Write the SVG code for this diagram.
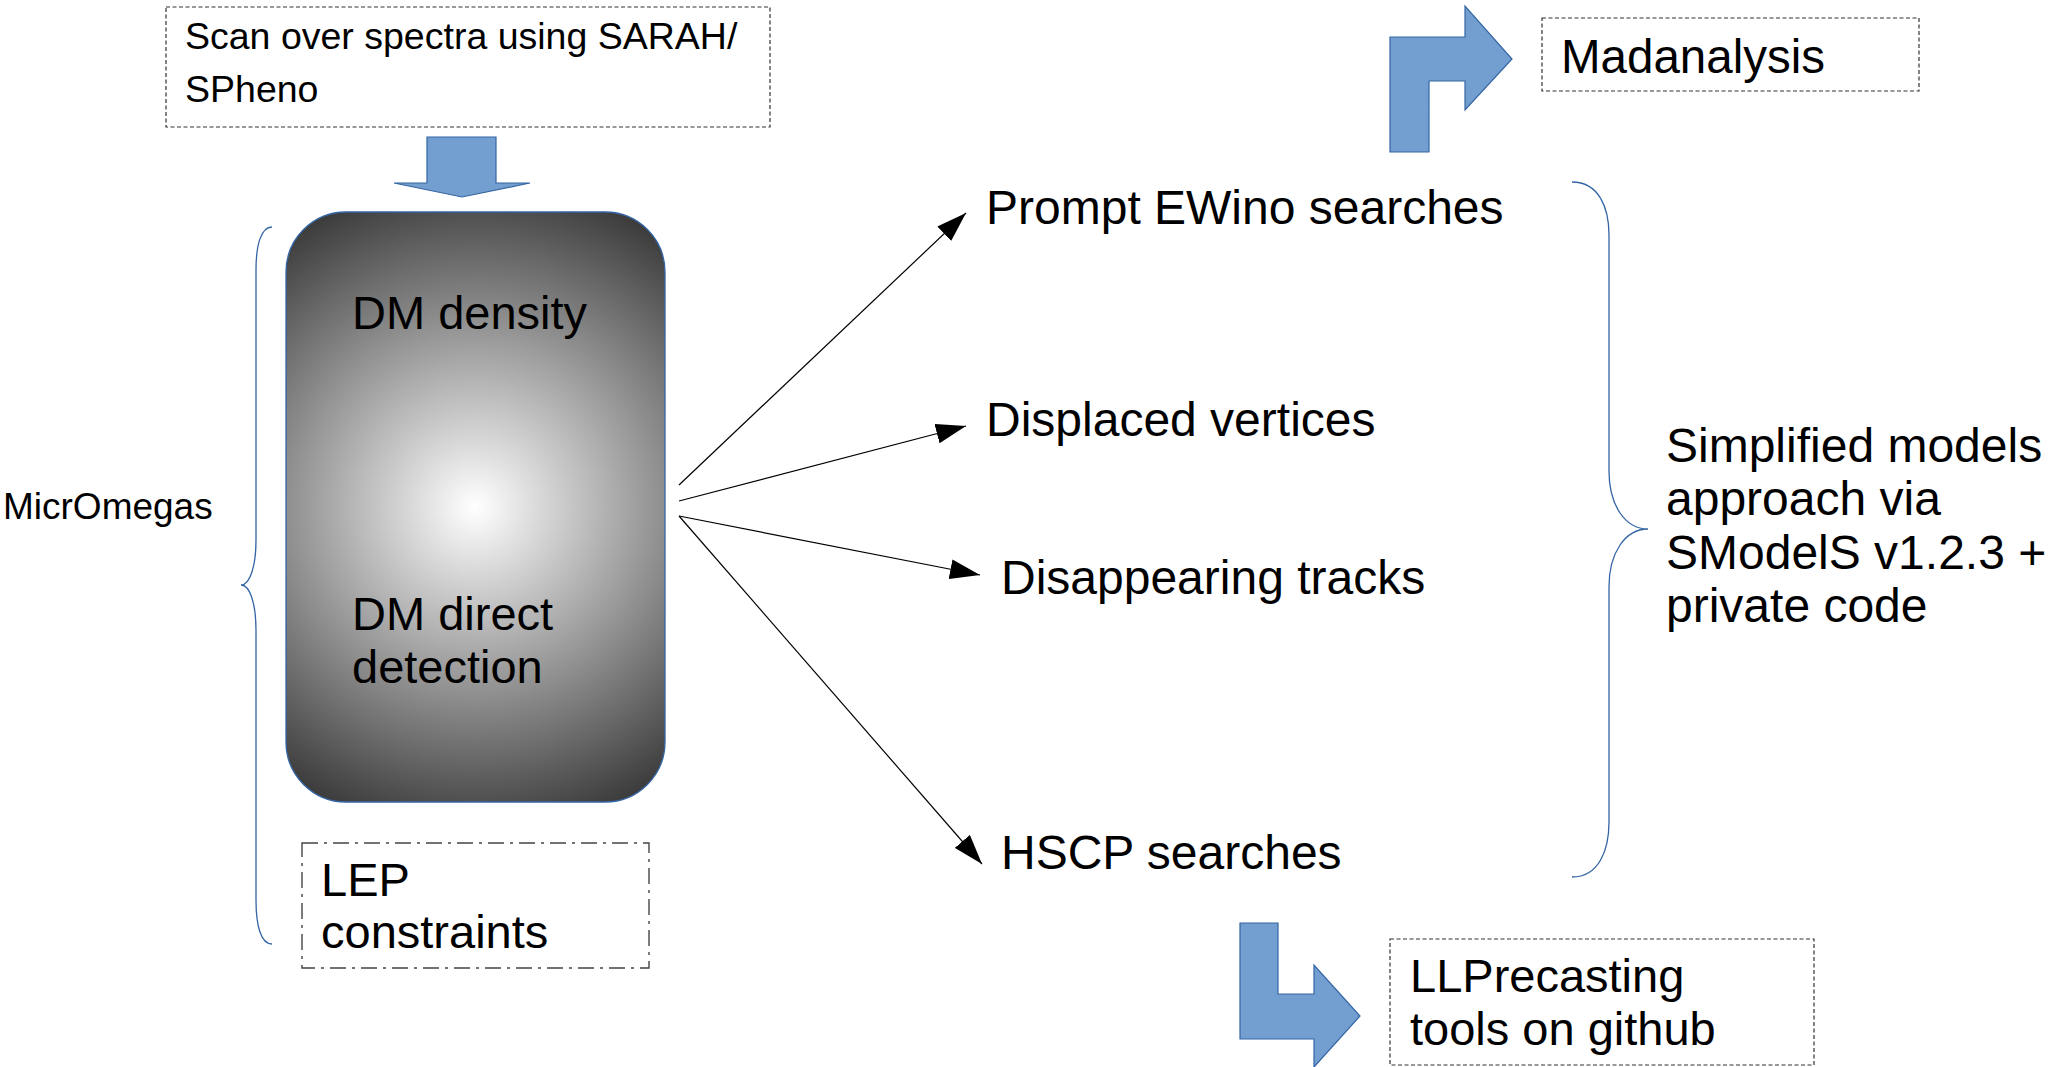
<svg xmlns="http://www.w3.org/2000/svg" width="2065" height="1067" viewBox="0 0 2065 1067">
  <defs>
    <style>
      .t { font-family: "Liberation Sans", Arial, Helvetica, sans-serif; fill: #000; }
      .dash { fill: #fff; stroke: #333; stroke-width: 1.2; stroke-dasharray: 4 2.5; }
      .dashdot { fill: #fff; stroke: #444; stroke-width: 1.4; stroke-dasharray: 16 6 3 6; }
      .block { fill: #729fcf; stroke: #3465a4; stroke-width: 1.2; }
      .brace { fill: none; stroke: #3465a4; stroke-width: 1.3; }
      .conn { stroke: #000; stroke-width: 1.2; fill: none; marker-end: url(#ah); }
    </style>
    <radialGradient id="glow" gradientUnits="userSpaceOnUse" cx="475" cy="507" r="351">
      <stop offset="0" stop-color="#ffffff"/>
      <stop offset="1" stop-color="#2e2e2e"/>
    </radialGradient>
    <marker id="ah" viewBox="0 0 30 20" refX="30" refY="10" markerWidth="30" markerHeight="20" markerUnits="userSpaceOnUse" orient="auto">
      <path d="M0,0 L30,10 L0,20 z" fill="#000"/>
    </marker>
  </defs>

  <rect width="2065" height="1067" fill="#fff"/>

  <!-- input spectra box -->
  <g id="scan">
    <rect class="dash" x="166" y="7" width="604" height="120"/>
    <text class="t" font-size="37.5" x="185" y="49">Scan over spectra using SARAH/</text>
    <text class="t" font-size="37.5" x="185" y="102">SPheno</text>
  </g>

  <!-- block arrow into the calculation box -->
  <g id="arrow-down">
    <polygon class="block" points="427,137 496,137 496,183 530,183 462,197 394,183 427,183"/>
  </g>

  <!-- MicrOmegas calculation box -->
  <g id="micromegas-box">
    <rect x="286" y="212" width="379" height="590" rx="60" ry="60" fill="url(#glow)" stroke="#3465a4" stroke-width="1.3"/>
    <text class="t" font-size="47" x="352" y="329" fill="#111">DM density</text>
    <text class="t" font-size="47" x="352" y="630" fill="#111">DM direct</text>
    <text class="t" font-size="47" x="352" y="683" fill="#111">detection</text>
  </g>

  <!-- left brace and label -->
  <g id="micromegas-brace">
    <path class="brace" d="M272,227 C261,227 256,245 256,270 L256,540 C256,566 250,585 241,585 C250,585 256,604 256,630 L256,900 C256,926 261,944 272,944"/>
    <text class="t" font-size="37" x="3" y="519">MicrOmegas</text>
  </g>

  <!-- LEP constraints box -->
  <g id="lep">
    <rect class="dashdot" x="302" y="843" width="347" height="125"/>
    <text class="t" font-size="47" x="321" y="896">LEP</text>
    <text class="t" font-size="47" x="321" y="948">constraints</text>
  </g>

  <!-- connectors to the search categories -->
  <g id="connectors">
    <line class="conn" x1="679" y1="485" x2="966" y2="213"/>
    <line class="conn" x1="679" y1="501" x2="966" y2="426"/>
    <line class="conn" x1="679" y1="516" x2="980" y2="575"/>
    <line class="conn" x1="679" y1="516" x2="982" y2="864"/>
  </g>

  <!-- search categories -->
  <g id="prompt">
    <text class="t" font-size="48" x="986" y="224">Prompt EWino searches</text>
  </g>
  <g id="displaced">
    <text class="t" font-size="48" x="986" y="436">Displaced vertices</text>
  </g>
  <g id="disappearing">
    <text class="t" font-size="48" x="1001" y="594">Disappearing tracks</text>
  </g>
  <g id="hscp">
    <text class="t" font-size="48" x="1001" y="869">HSCP searches</text>
  </g>

  <!-- right brace and SModelS label -->
  <g id="smodels">
    <path class="brace" d="M1572,182 C1599,182 1609,208 1609,235 L1609,471 C1609,505 1625,529 1648,529 C1625,529 1609,553 1609,587 L1609,822 C1609,850 1599,877 1572,877"/>
    <text class="t" font-size="48" x="1666" y="462">Simplified models</text>
    <text class="t" font-size="48" x="1666" y="515">approach via</text>
    <text class="t" font-size="48" x="1666" y="569">SModelS v1.2.3 +</text>
    <text class="t" font-size="48" x="1666" y="622">private code</text>
  </g>

  <!-- Madanalysis branch -->
  <g id="arrow-mad">
    <polygon class="block" points="1390,152 1390,37 1465,37 1465,6 1512,59 1465,110 1465,81 1429,81 1429,152"/>
  </g>
  <g id="madanalysis">
    <rect class="dash" x="1542" y="18" width="377" height="73"/>
    <text class="t" font-size="47.5" x="1561" y="73">Madanalysis</text>
  </g>

  <!-- LLPrecasting branch -->
  <g id="arrow-llp">
    <polygon class="block" points="1240,923 1278,923 1278,994 1314,994 1314,965 1360,1016 1314,1067 1314,1039 1240,1039"/>
  </g>
  <g id="llprecasting">
    <rect class="dash" x="1390" y="939" width="424" height="126"/>
    <text class="t" font-size="47" x="1410" y="992">LLPrecasting</text>
    <text class="t" font-size="47" x="1410" y="1045">tools on github</text>
  </g>
</svg>
